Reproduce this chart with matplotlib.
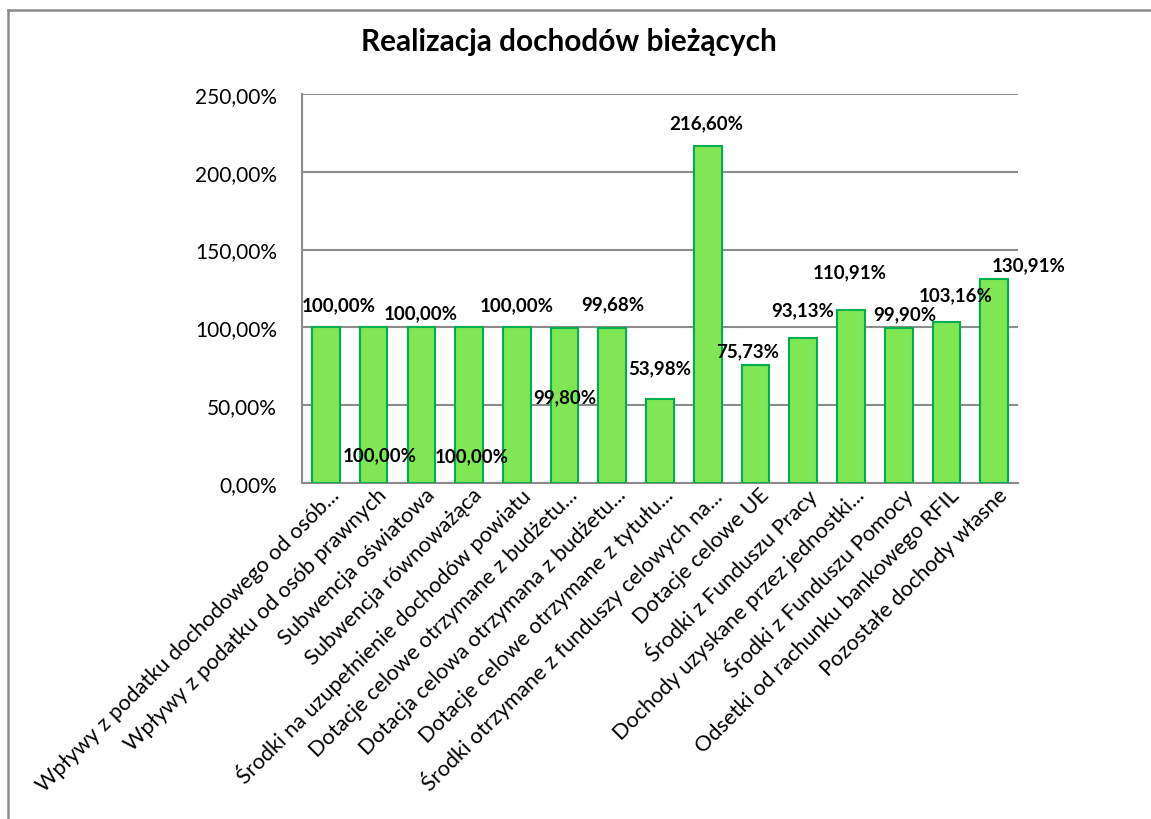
import matplotlib.pyplot as plt
import matplotlib.transforms as mtransforms
from matplotlib.lines import Line2D
from matplotlib.ticker import FuncFormatter

plt.rcParams['font.family'] = ['Lato', 'DejaVu Sans']

# dane
categories = [
    'Wpływy z podatku dochodowego od osób...',
    'Wpływy z podatku od osób prawnych',
    'Subwencja oświatowa',
    'Subwencja równoważąca',
    'Środki na uzupełnienie dochodów powiatu',
    'Dotacje celowe otrzymane z budżetu...',
    'Dotacja celowa otrzymana z budżetu...',
    'Dotacje celowe otrzymane z tytułu...',
    'Środki otrzymane z funduszy celowych na...',
    'Dotacje celowe UE',
    'Środki z Funduszu Pracy',
    'Dochody uzyskane przez jednostki...',
    'Środki z Funduszu Pomocy',
    'Odsetki od rachunku bankowego RFIL',
    'Pozostałe dochody własne',
]
values = [100.00, 100.00, 100.00, 100.00, 100.00, 99.80, 99.68, 53.98,
          216.60, 75.73, 93.13, 110.91, 99.90, 103.16, 130.91]

# przesunięcia etykiet danych względem wierzchołka słupka (piksele)
label_dx = [13, 6, -1, 3, 0, 0, 1, 0, -2, -8, -1, -1, 6, 9, 34]
label_dy = [23, -127, 15, -128, 23, -69, 24, 31, 23, 14, 28, 39, 14, 28, 15]

fig = plt.figure(figsize=(11.51, 8.20), dpi=100)
ax = fig.add_axes([0.2624, 0.4098, 0.6221, 0.4744])

x = range(len(values))
bars = ax.bar(x, values, width=0.58, color='#80E654', edgecolor='#00B050',
              linewidth=1.5, zorder=3)

ax.set_xlim(-0.5, len(values) - 0.5)
ax.set_ylim(0, 250)
ax.set_yticks([0, 50, 100, 150, 200, 250])
ax.yaxis.set_major_formatter(FuncFormatter(lambda v, p: f'{v:.2f}%'.replace('.', ',')))
ax.grid(axis='y', color='#8C8C8C', linewidth=1.5, zorder=0)
ax.set_axisbelow(True)

for s in ['top', 'right']:
    ax.spines[s].set_visible(False)
for s in ['left', 'bottom']:
    ax.spines[s].set_color('#8C8C8C')
    ax.spines[s].set_linewidth(1.5)

ax.tick_params(axis='y', length=0, pad=18, labelsize=15)
ax.tick_params(axis='x', length=0, pad=4)
ax.set_xticks(list(x))
ax.set_xticklabels(categories, rotation=45, ha='right', va='center',
                   rotation_mode='anchor', fontsize=15.7)
shift = mtransforms.ScaledTranslation(0.10, -0.03, fig.dpi_scale_trans)
for lbl in ax.get_xticklabels():
    lbl.set_transform(lbl.get_transform() + shift)

for i, v in enumerate(values):
    ax.annotate(f'{v:.2f}%'.replace('.', ','), xy=(i, v),
                xytext=(label_dx[i] * 0.72, label_dy[i] * 0.72),
                textcoords='offset points', ha='center', va='center',
                fontsize=13.5, fontweight='bold', zorder=5)

fig.text(0.4943, 0.9488, 'Realizacja dochodów bieżących', ha='center', va='center',
         fontsize=21.4, fontweight='bold')

# ramka wykresu
fig.add_artist(Line2D([0.007, 1.0], [0.9866, 0.9866], color='#8C8C8C', linewidth=1.8,
                      transform=fig.transFigure))
fig.add_artist(Line2D([0.007, 0.007], [0.0, 0.9866], color='#8C8C8C', linewidth=1.8,
                      transform=fig.transFigure))

fig.savefig('out.png', dpi=100)
